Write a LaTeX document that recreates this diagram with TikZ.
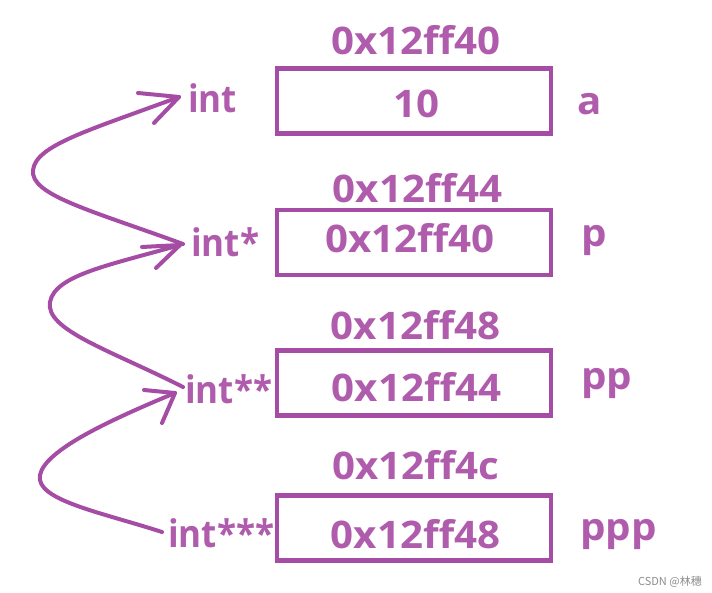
\documentclass[tikz,border=0pt]{standalone}
\usepackage{fontspec}
\setmainfont{Open Sans}[FakeStretch=1.06]
\newfontfamily\typefont{Open Sans}[FakeStretch=0.92]
\newfontfamily\cjk{Noto Sans CJK SC}
\definecolor{txt}{HTML}{B05CAC}
\definecolor{ln}{HTML}{A54CA5}
\tikzset{
  membox/.style={draw=ln, line width=4.5pt, minimum width=274pt, minimum height=65pt, inner sep=0pt},
  lab/.style={text=txt, font=\fontsize{38}{40}\selectfont\bfseries, inner sep=0pt, anchor=base},
  lablw/.style={lab, anchor=base west},
  typelab/.style={lab, anchor=base west, font=\typefont\fontsize{38}{40}\selectfont\bfseries},
  ptr/.style={draw=ln, line width=4pt, line cap=round, line join=round},
}
\begin{document}
\begin{tikzpicture}[x=1pt,y=-1pt]
\useasboundingbox (0,0) rectangle (712,593);
% boxes
\node[membox] (b1) at (414,101) {};
\node[membox] (b2) at (414,242.5) {};
\node[membox] (b3) at (414,383) {};
\node[membox] (b4) at (414,528) {};
% addresses
\node[lab] (ad1) at (416,55) {0x12ff40};
\node[lab] (ad2) at (417.5,203) {0x12ff44};
\node[lab] (ad3) at (415.5,340) {0x12ff48};
\node[lab] (ad4) at (416,479) {0x12ff4c};
% values
\node[lab] (v1) at (416,118) {10};
\node[lab] (v2) at (410,253) {0x12ff40};
\node[lab] (v3) at (416.5,401) {0x12ff44};
\node[lab] (v4) at (415.5,548) {0x12ff48};
% names
\node[lablw] (n1) at (577,115) {a};
\node[lablw] (n2) at (581,247) {p};
\node[lablw] (n3) at (581,389) {pp};
\node[lablw] (n4) at (580,540) {ppp};
% types
\node[typelab] (t1) at (188,113) {int};
\node[typelab] (t2) at (191,257) {int*};
\node[typelab] (t3) at (185,403) {int**};
\node[typelab] (t4) at (168,547) {int***};
% arrow ends
\coordinate (tip1) at (179,97);
\coordinate (s1) at (183,244);
\coordinate (tip2) at (180,245);
\coordinate (s2) at (183,387);
\coordinate (tip3) at (175,393);
\coordinate (s3) at (162,532);
% arrows
\draw[ptr] (s1) .. controls (90,210) and (30,195) .. (33,170) .. controls (36,145) and (90,130) .. (tip1);
\draw[ptr] (tip1) -- ++(-41,-4) (tip1) -- ++(-25,26);
\draw[ptr] (s2) .. controls (110,350) and (45,330) .. (50,302) .. controls (55,275) and (110,265) .. (tip2);
\draw[ptr] (tip2) -- ++(-38,2) (tip2) -- ++(-24,23);
\draw[ptr] (s3) .. controls (100,512) and (35,500) .. (40,475) .. controls (45,450) and (110,420) .. (tip3);
\draw[ptr] (tip3) -- ++(-31,-3) (tip3) -- ++(-13,30);
% watermark
\node[text=black!45, font=\cjk\fontsize{11}{12}\selectfont, anchor=east, inner sep=0pt] (wm) at (702,582) {CSDN @林穗};
\end{tikzpicture}
\end{document}
